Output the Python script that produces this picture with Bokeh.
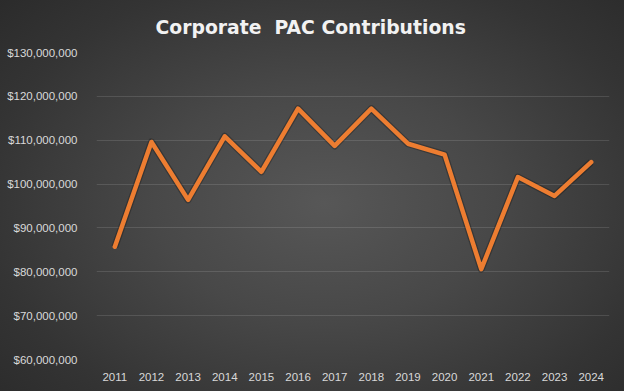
from bokeh.plotting import figure
from bokeh.models import Range1d, NumeralTickFormatter, SingleIntervalTicker, ColumnDataSource
from bokeh.embed import file_html
from bokeh.resources import INLINE

years = ["2011", "2012", "2013", "2014", "2015", "2016", "2017",
         "2018", "2019", "2020", "2021", "2022", "2023", "2024"]
contributions = [85.7e6, 109.6e6, 96.4e6, 110.9e6, 102.8e6, 117.2e6, 108.7e6,
                 117.2e6, 109.2e6, 106.7e6, 80.6e6, 101.6e6, 97.3e6, 105.0e6]
title_text = "Corporate\u00a0 PAC Contributions"

src = ColumnDataSource(dict(year=years, value=contributions))

p = figure(width=624, height=391, x_range=years, y_range=Range1d(60e6, 130e6),
           output_backend="svg", toolbar_location=None,
           min_border_left=96, min_border_right=15, min_border_top=52, min_border_bottom=32)

p.background_fill_alpha = 0
p.border_fill_alpha = 0
p.outline_line_color = None
p.styles = {"background": "radial-gradient(ellipse 78% 85% at 52% 52%, #575757 0%, #484848 35%, #343434 70%, #272727 100%)"}

p.title.text = title_text
p.title.text_font = "DejaVu Sans"
p.title.text_font_size = "18.8px"
p.title.text_font_style = "bold"
p.title.text_color = "#f2f2f2"
p.title.align = "left"
p.title.offset = 59
p.title.standoff = 29

p.yaxis.ticker = SingleIntervalTicker(interval=10e6)
p.yaxis.formatter = NumeralTickFormatter(format="$0,0")
for ax in (p.xaxis[0], p.yaxis[0]):
    ax.axis_line_color = None
    ax.major_tick_line_color = None
    ax.minor_tick_line_color = None
    ax.major_label_text_color = "#d9d9d9"
    ax.major_label_text_font = "Liberation Sans"
    ax.major_label_text_font_size = "11.5px"
p.yaxis.major_label_standoff = 13
p.xaxis.major_label_standoff = 7

p.xgrid.grid_line_color = None
p.ygrid.grid_line_color = "#ffffff"
p.ygrid.grid_line_alpha = 0.12
p.ygrid.grid_line_width = 1

p.line("year", "value", source=src, line_color="#000000", line_alpha=0.25, line_width=7,
       line_join="round")
p.line("year", "value", source=src, line_color="#ED7D31", line_width=4.5, line_join="round",
       line_cap="round")

html = file_html(p, INLINE)
html = html.replace("<head>", "<head><style>html,body{margin:0;padding:0;background:#2a2a2a;overflow:hidden}</style>", 1)
open("out.html", "w").write(html)
